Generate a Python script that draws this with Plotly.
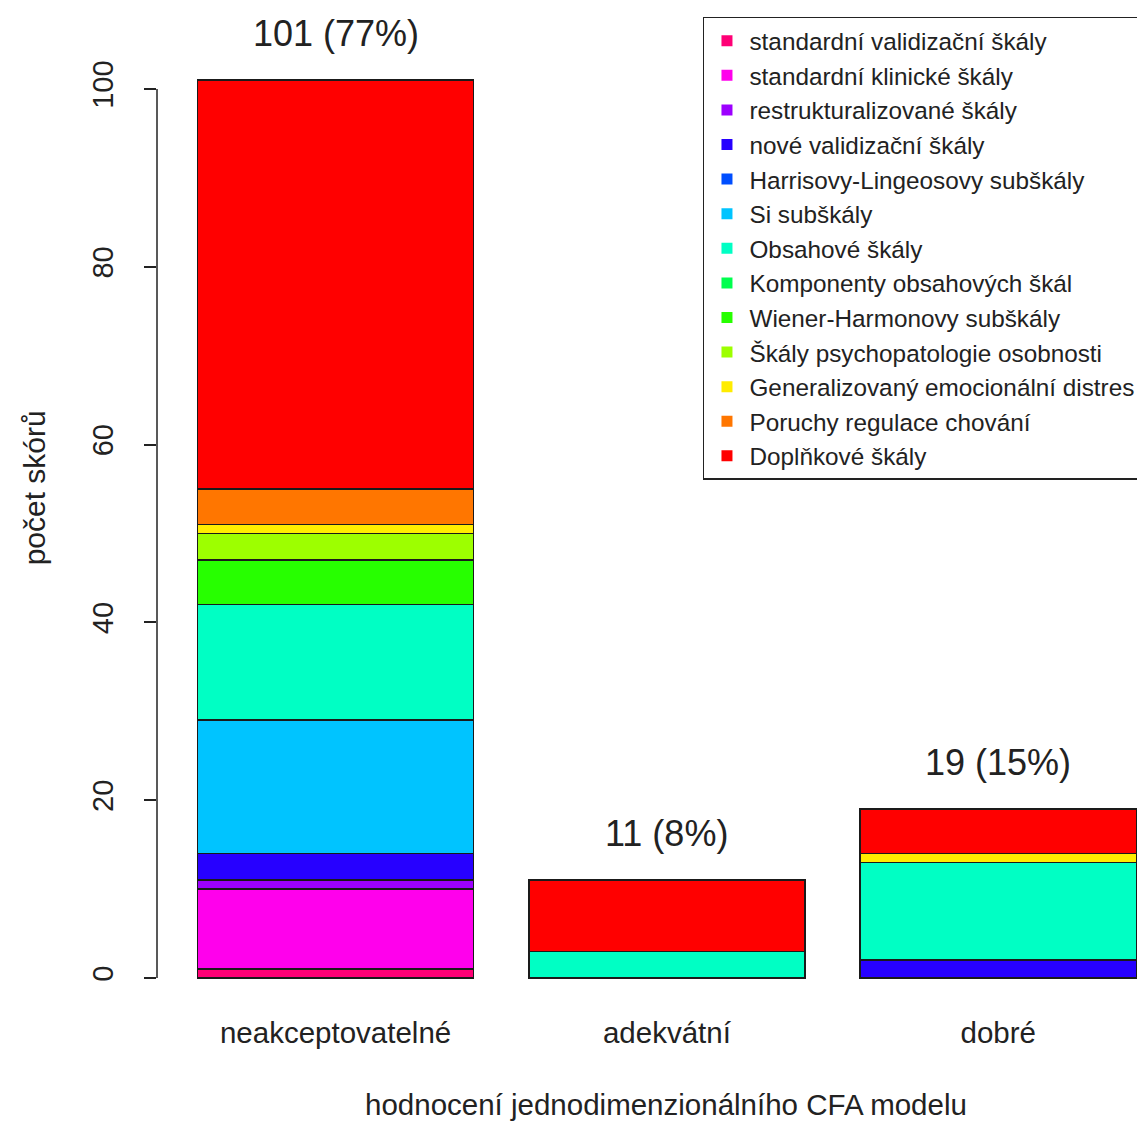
import plotly.graph_objects as go

categories = ["neakceptovatelné", "adekvátní", "dobré"]

series_names = [
    "standardní validizační škály",
    "standardní klinické škály",
    "restrukturalizované škály",
    "nové validizační škály",
    "Harrisovy-Lingeosovy subškály",
    "Si subškály",
    "Obsahové škály",
    "Komponenty obsahových škál",
    "Wiener-Harmonovy subškály",
    "Škály psychopatologie osobnosti",
    "Generalizovaný emocionální distres",
    "Poruchy regulace chování",
    "Doplňkové škály",
]

# values per series for [neakceptovatelné, adekvátní, dobré]
standardni_validizacni = [1, 0, 0]
standardni_klinicke = [9, 0, 0]
restrukturalizovane = [1, 0, 0]
nove_validizacni = [3, 0, 2]
harrisovy_lingeosovy = [0, 0, 0]
si_subskaly = [15, 0, 0]
obsahove = [13, 3, 11]
komponenty_obsahovych = [0, 0, 0]
wiener_harmonovy = [5, 0, 0]
psychopatologie_osobnosti = [3, 0, 0]
generalizovany_distres = [1, 0, 1]
poruchy_regulace = [4, 0, 0]
doplnkove = [46, 8, 5]

series_values = [
    standardni_validizacni, standardni_klinicke, restrukturalizovane,
    nove_validizacni, harrisovy_lingeosovy, si_subskaly, obsahove,
    komponenty_obsahovych, wiener_harmonovy, psychopatologie_osobnosti,
    generalizovany_distres, poruchy_regulace, doplnkove,
]

colors = [
    "#FF0076", "#FF00EC", "#9D00FF", "#2700FF", "#004EFF", "#00C4FF",
    "#00FFC4", "#00FF4E", "#27FF00", "#9DFF00", "#FFEC00", "#FF7600", "#FF0000",
]

y_ticks = [0, 20, 40, 60, 80, 100]

x_title = "hodnocení jednodimenzionálního CFA modelu"
y_title = "počet skórů"

FONT = "Liberation Sans, Arial, sans-serif"
TXT = "#222222"

fig = go.Figure()

for name, vals, col in zip(series_names, series_values, colors):
    fig.add_trace(go.Bar(
        x=categories, y=vals, name=name, showlegend=False,
        marker=dict(color=col, line=dict(color="#1a1a1a", width=1.5)),
    ))

# legend entries as small squares (like R legend)
for name, col in zip(series_names, colors):
    fig.add_trace(go.Scatter(
        x=[None], y=[None], mode="markers", name=name,
        marker=dict(symbol="square", size=11, color=col),
    ))

totals = [sum(v[i] for v in series_values) for i in range(len(categories))]
grand = sum(totals)
for cat, tot in zip(categories, totals):
    fig.add_annotation(
        x=cat, y=tot, text=f"{tot} ({round(100 * tot / grand)}%)",
        showarrow=False, yanchor="middle", yshift=47,
        font=dict(family=FONT, size=36, color=TXT),
    )

# axis titles (placed like R's mtext)
fig.add_annotation(
    text=x_title, xref="paper", yref="paper", x=0.5152, y=-0.109,
    xanchor="center", yanchor="middle", showarrow=False,
    font=dict(family=FONT, size=29.5, color=TXT),
)
fig.add_annotation(
    text=y_title, xref="paper", yref="paper", x=-0.1245, y=0.534,
    xanchor="center", yanchor="middle", showarrow=False, textangle=-90,
    font=dict(family=FONT, size=30, color=TXT),
)

# y axis line spanning only the tick range, like R
fig.add_shape(type="line", xref="paper", x0=0, x1=0, yref="y",
              y0=y_ticks[0], y1=y_ticks[-1], line=dict(color="#222222", width=1.5))

fig.update_layout(
    width=1145, height=1123,
    margin=dict(l=149, r=8, t=32, b=131),
    barmode="stack", bargap=1 / 6,
    plot_bgcolor="white", paper_bgcolor="white",
    font=dict(family=FONT, color=TXT),
    legend=dict(
        x=0.5526, y=1.024, xanchor="left", yanchor="top",
        bgcolor="white", bordercolor="#222222", borderwidth=1.5,
        font=dict(family=FONT, size=24.3, color=TXT),
        traceorder="normal", itemwidth=35,
    ),
    xaxis=dict(
        range=[-0.539, 2.443], showline=False, showgrid=False, zeroline=False,
        ticks="", ticklabelstandoff=12, tickfont=dict(family=FONT, size=29.5, color=TXT),
    ),
    yaxis=dict(
        range=[-2.4747, 105.51], tickvals=y_ticks, showgrid=False, zeroline=False,
        showline=False, ticks="outside", ticklen=12, tickwidth=1.5, tickcolor="#222222",
        ticklabelstandoff=19,
        tickangle=-90, tickfont=dict(family=FONT, size=29, color=TXT),
    ),
)

fig.write_html("out.html")
